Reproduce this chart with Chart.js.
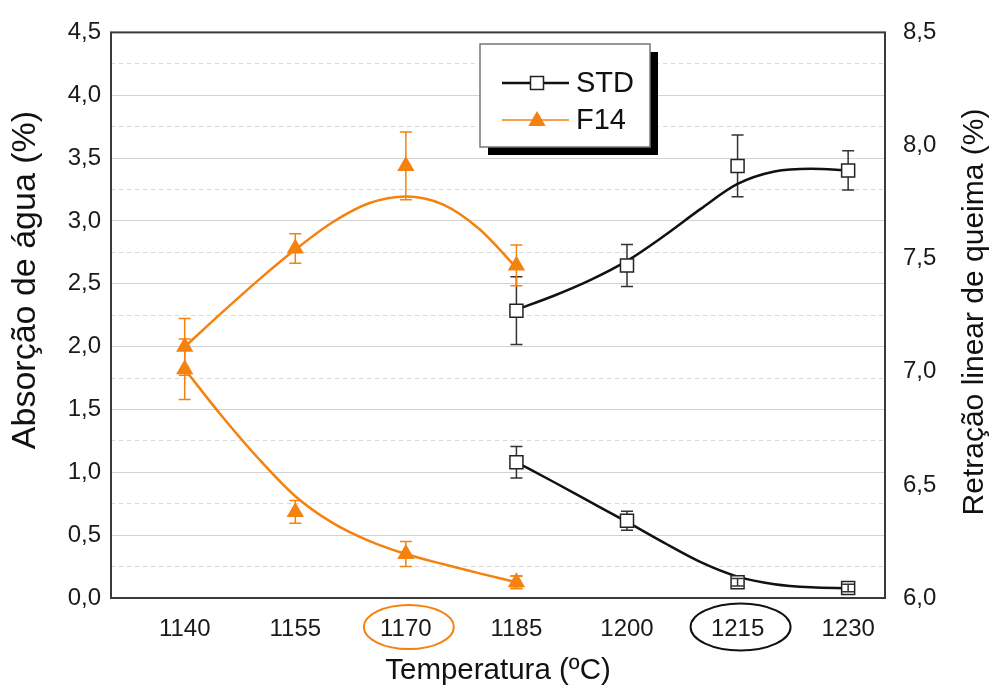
<!DOCTYPE html>
<html>
<head>
<meta charset="utf-8">
<script src="https://cdn.jsdelivr.net/npm/chart.js@4.4.1/dist/chart.umd.min.js"></script>
<style>
  body { margin: 0; background: #fff; }
  canvas { display: block; }
</style>
</head>
<body>
<canvas id="grafico" width="995" height="692"></canvas>
<script>
'use strict';

// temperaturas de queima (eixo x)
var temps = [1140, 1155, 1170, 1185, 1200, 1215, 1230];
var stdTemps = [1185, 1200, 1215, 1230];
var f14Temps = [1140, 1155, 1170, 1185];
var highlightTemps = [1170, 1215];

// STD - absorção de água (%) e retração linear (%)
var stdAbs = [1.08, 0.615, 0.125, 0.08];
var stdAbsErr = [0.125, 0.075, 0.03, 0.03];
var stdRet = [7.27, 7.47, 7.91, 7.89];
var stdRetErr = [0.15, 0.093, 0.136, 0.087];

// F14 - absorção de água (%) e retração linear (%)
var f14Abs = [1.82, 0.685, 0.35, 0.125];
var f14AbsErr = [0.24, 0.09, 0.1, 0.05];
var f14Ret = [7.11, 7.545, 7.91, 7.47];
var f14RetErr = [0.125, 0.065, 0.15, 0.09];

// curvas de ajuste
var fitStdTemps = [1185, 1190, 1195, 1200, 1205, 1210, 1215, 1220, 1225, 1230];
var fitStdAbs = [1.08, 0.925, 0.765, 0.605, 0.44, 0.285, 0.17, 0.11, 0.085, 0.078];
var fitStdRet = [7.275, 7.335, 7.405, 7.49, 7.60, 7.72, 7.83, 7.885, 7.897, 7.89];
var fitF14Temps = [1140, 1145, 1150, 1155, 1160, 1165, 1170, 1175, 1180, 1185];
var fitF14Abs = [1.82, 1.45, 1.11, 0.81, 0.60, 0.455, 0.35, 0.27, 0.196, 0.125];
var fitF14Ret = [7.11, 7.26, 7.405, 7.54, 7.66, 7.745, 7.775, 7.74, 7.63, 7.46];

var laranja = '#f5820f';
var preto = '#111111';
var fonte = "'Liberation Sans', Arial, sans-serif";

function pares(xs, ys) {
	return xs.map(function(x, i) { return {x: x, y: ys[i]}; });
}
function virgula(v, d) {
	return v.toFixed(d).replace('.', ',');
}
function meioPasso(v) {
	return Math.round(v * 4) % 2 === 0;
}

//desenha as barras de erro
function barras(chart, soPequenas) {
	var ctx = chart.ctx;
	chart.data.datasets.forEach(function(ds, i) {
		if (!ds.err) return;
		var meta = chart.getDatasetMeta(i);
		var ys = chart.scales[ds.yAxisID];
		ctx.save();
		ctx.strokeStyle = ds.errColor;
		ctx.lineWidth = 1.5;
		ds.data.forEach(function(p, j) {
			var x = meta.data[j].x;
			var y1 = ys.getPixelForValue(p.y + ds.err[j]);
			var y2 = ys.getPixelForValue(p.y - ds.err[j]);
			if (soPequenas && (y2 - y1) / 2 > 7) return;
			ctx.beginPath();
			ctx.moveTo(x, y1); ctx.lineTo(x, y2);
			ctx.moveTo(x - 6, y1); ctx.lineTo(x + 6, y1);
			ctx.moveTo(x - 6, y2); ctx.lineTo(x + 6, y2);
			ctx.stroke();
		});
		ctx.restore();
	});
}

function quadrado(ctx, x, y) {
	ctx.fillStyle = '#fff';
	ctx.strokeStyle = '#222';
	ctx.lineWidth = 1.5;
	ctx.fillRect(x - 6.5, y - 6.5, 13, 13);
	ctx.strokeRect(x - 6.5, y - 6.5, 13, 13);
}
function triangulo(ctx, x, y) {
	ctx.fillStyle = laranja;
	ctx.beginPath();
	ctx.moveTo(x, y - 10);
	ctx.lineTo(x + 8.7, y + 5);
	ctx.lineTo(x - 8.7, y + 5);
	ctx.closePath();
	ctx.fill();
}
function tituloVertical(ctx, texto, x, y, tamanho) {
	ctx.save();
	ctx.translate(x, y);
	ctx.rotate(-Math.PI / 2);
	ctx.fillStyle = '#111';
	ctx.font = tamanho + 'px ' + fonte;
	ctx.textAlign = 'center';
	ctx.textBaseline = 'middle';
	ctx.fillText(texto, 0, 0);
	ctx.restore();
}

var extras = {
	id: 'extras',
	beforeDatasetsDraw: function(chart) {
		barras(chart, false);
	},
	afterDatasetsDraw: function(chart) {
		barras(chart, true);
	},
	afterDraw: function(chart) {
		var ctx = chart.ctx;
		var a = chart.chartArea;
		var xs = chart.scales.x;
		ctx.save();
		//moldura
		ctx.strokeStyle = '#3a3a3a';
		ctx.lineWidth = 2;
		ctx.strokeRect(a.left, a.top, a.right - a.left, a.bottom - a.top);

		//títulos dos eixos y
		tituloVertical(ctx, 'Absorção de água (%)', 26, 280, 34);
		tituloVertical(ctx, 'Retração linear de queima (%)', 975, 312, 30);

		//elipses nas temperaturas destacadas
		var cores = [laranja, preto];
		var raios = [[45, 22], [50, 23.5]];
		highlightTemps.forEach(function(t, i) {
			ctx.beginPath();
			ctx.strokeStyle = cores[i];
			ctx.lineWidth = 2;
			ctx.ellipse(xs.getPixelForValue(t) + 3, a.bottom + 29, raios[i][0], raios[i][1], 0, 0, Math.PI * 2);
			ctx.stroke();
		});

		//legenda
		var lx = 480, ly = 44, lw = 170, lh = 103;
		ctx.fillStyle = '#000';
		ctx.fillRect(lx + 8, ly + 8, lw, lh);
		ctx.fillStyle = '#fff';
		ctx.fillRect(lx, ly, lw, lh);
		ctx.strokeStyle = '#777';
		ctx.lineWidth = 1.5;
		ctx.strokeRect(lx, ly, lw, lh);

		ctx.lineWidth = 2.5;
		ctx.strokeStyle = preto;
		ctx.beginPath(); ctx.moveTo(502, 83); ctx.lineTo(569, 83); ctx.stroke();
		quadrado(ctx, 537, 83);
		ctx.strokeStyle = laranja;
		ctx.beginPath(); ctx.moveTo(502, 120); ctx.lineTo(569, 120); ctx.stroke();
		triangulo(ctx, 537, 121);

		ctx.fillStyle = '#111';
		ctx.font = '29px ' + fonte;
		ctx.textBaseline = 'middle';
		ctx.fillText('STD', 576, 84);
		ctx.fillText('F14', 576, 121);
		ctx.restore();
	}
};

var ctx = document.getElementById('grafico');
var grafico = new Chart(ctx, {
	type: 'line',
	data: {
		datasets: [
			{ label: 'STD', data: pares(stdTemps, stdAbs), yAxisID: 'yAbs', err: stdAbsErr, errColor: '#333',
			  showLine: false, pointStyle: 'rect', pointRadius: 9.2, pointBackgroundColor: '#fff', pointBorderColor: '#222', pointBorderWidth: 1.5 },
			{ label: 'STD', data: pares(stdTemps, stdRet), yAxisID: 'yRet', err: stdRetErr, errColor: '#333',
			  showLine: false, pointStyle: 'rect', pointRadius: 9.2, pointBackgroundColor: '#fff', pointBorderColor: '#222', pointBorderWidth: 1.5 },
			{ label: 'F14', data: pares(f14Temps, f14Abs), yAxisID: 'yAbs', err: f14AbsErr, errColor: laranja,
			  showLine: false, pointStyle: 'triangle', pointRadius: 10, pointBackgroundColor: laranja, pointBorderColor: laranja, pointBorderWidth: 0 },
			{ label: 'F14', data: pares(f14Temps, f14Ret), yAxisID: 'yRet', err: f14RetErr, errColor: laranja,
			  showLine: false, pointStyle: 'triangle', pointRadius: 10, pointBackgroundColor: laranja, pointBorderColor: laranja, pointBorderWidth: 0 },
			{ label: 'ajuste', data: pares(fitStdTemps, fitStdAbs), yAxisID: 'yAbs', borderColor: preto, borderWidth: 2.5, pointRadius: 0, cubicInterpolationMode: 'monotone' },
			{ label: 'ajuste', data: pares(fitStdTemps, fitStdRet), yAxisID: 'yRet', borderColor: preto, borderWidth: 2.5, pointRadius: 0, cubicInterpolationMode: 'monotone' },
			{ label: 'ajuste', data: pares(fitF14Temps, fitF14Abs), yAxisID: 'yAbs', borderColor: laranja, borderWidth: 2.5, pointRadius: 0, cubicInterpolationMode: 'monotone' },
			{ label: 'ajuste', data: pares(fitF14Temps, fitF14Ret), yAxisID: 'yRet', borderColor: laranja, borderWidth: 2.5, pointRadius: 0, cubicInterpolationMode: 'monotone' }
		]
	},
	options: {
		responsive: false,
		animation: false,
		layout: { padding: { top: 20, left: 0, right: 0, bottom: 0 } },
		plugins: { legend: { display: false }, tooltip: { enabled: false } },
		scales: {
			x: {
				type: 'linear',
				min: 1130,
				max: 1235,
				afterBuildTicks: function(scale) {
					scale.ticks = temps.map(function(t) { return {value: t}; });
				},
				afterFit: function(scale) { scale.height = 94; },
				grid: { display: false, drawTicks: false },
				border: { display: false },
				ticks: {
					padding: 17,
					color: '#1a1a1a',
					font: { family: fonte, size: 24 },
					callback: function(v) { return String(v); }
				},
				title: {
					display: true,
					text: 'Temperatura (ºC)',
					color: '#111',
					font: { family: fonte, size: 29.5 },
					padding: { top: 0, bottom: 3 }
				}
			},
			yAbs: {
				type: 'linear',
				position: 'left',
				min: 0,
				max: 4.5,
				afterFit: function(scale) { scale.width = 111; },
				grid: {
					drawTicks: false,
					lineWidth: 1,
					color: function(c) { return c.tick && meioPasso(c.tick.value) ? '#d2d2d2' : '#d8d8d8'; }
				},
				border: {
					display: false,
					dash: function(c) { return c.tick && meioPasso(c.tick.value) ? [] : [4, 4]; }
				},
				ticks: {
					stepSize: 0.25,
					maxTicksLimit: 20,
					autoSkip: false,
					padding: 10,
					color: '#1a1a1a',
					font: { family: fonte, size: 24 },
					callback: function(v) { return meioPasso(v) ? virgula(v, 1) : ''; }
				}
			},
			yRet: {
				type: 'linear',
				position: 'right',
				min: 6,
				max: 8.5,
				afterFit: function(scale) { scale.width = 110; },
				grid: { drawOnChartArea: false, drawTicks: false },
				border: { display: false },
				ticks: {
					stepSize: 0.5,
					padding: 18,
					color: '#1a1a1a',
					font: { family: fonte, size: 24 },
					callback: function(v) { return virgula(v, 1); }
				}
			}
		}
	},
	plugins: [extras]
});
</script>
</body>
</html>
